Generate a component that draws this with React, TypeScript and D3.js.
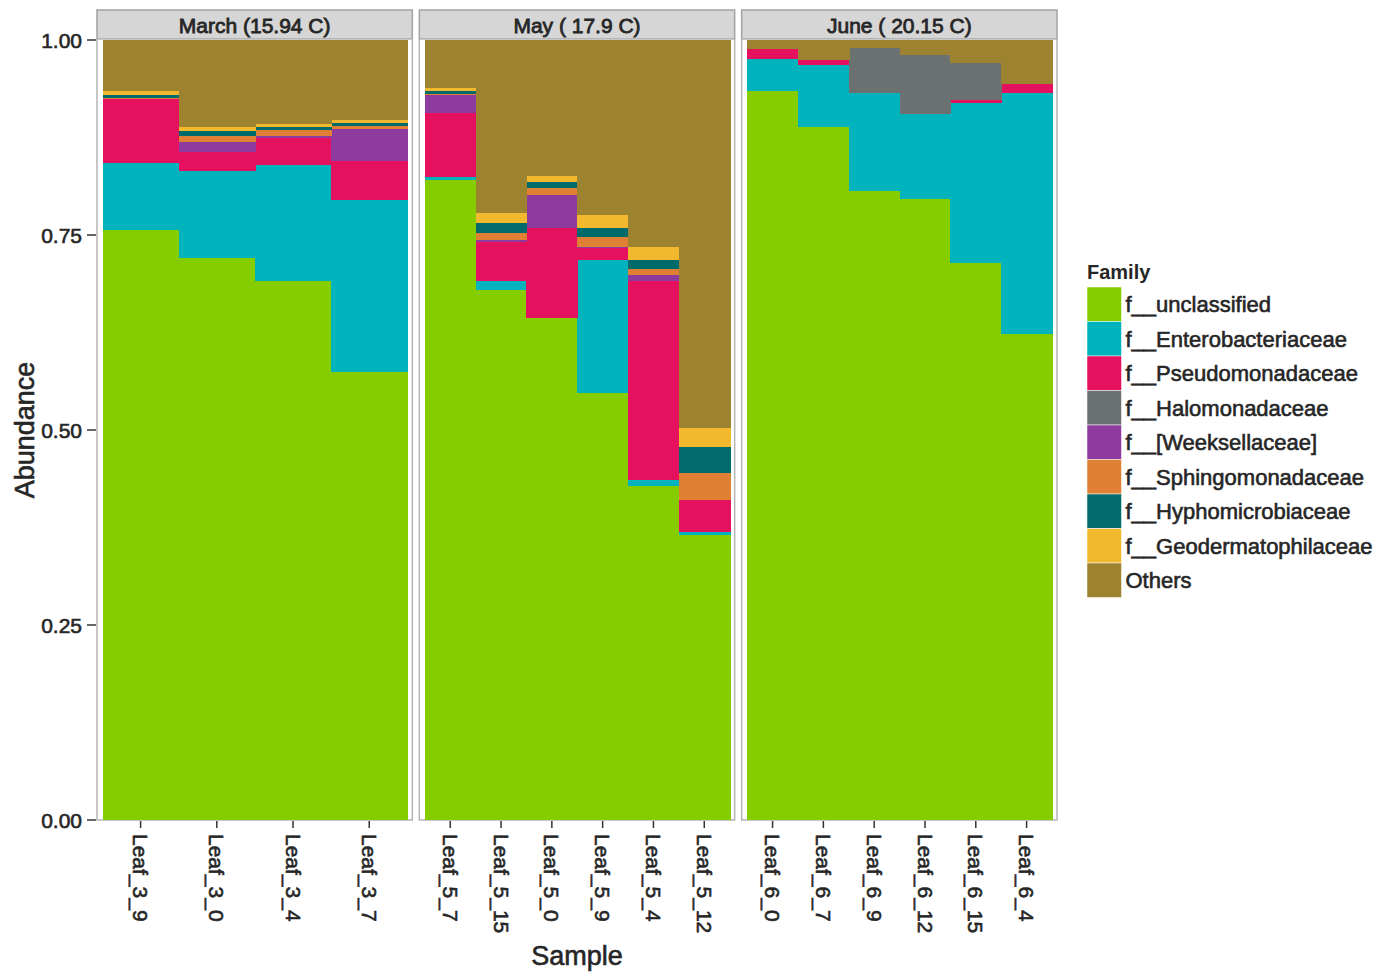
import * as d3 from "d3";

// Family order, bottom of the stack first
const families = [
  "f__unclassified",
  "f__Enterobacteriaceae",
  "f__Pseudomonadaceae",
  "f__Halomonadaceae",
  "f__[Weeksellaceae]",
  "f__Sphingomonadaceae",
  "f__Hyphomicrobiaceae",
  "f__Geodermatophilaceae",
  "Others",
];
const familyColors = [
  "#86CD00",
  "#00B3BC",
  "#E5105E",
  "#6B7070",
  "#8E3B9F",
  "#DF8034",
  "#016B6B",
  "#F2B92E",
  "#9D832F",
];

const panelTitles = ["March (15.94 C)", "May ( 17.9 C)", "June ( 20.15 C)"];
const marchSamples = ["Leaf_3_9", "Leaf_3_0", "Leaf_3_4", "Leaf_3_7"];
const maySamples = ["Leaf_5_7", "Leaf_5_15", "Leaf_5_0", "Leaf_5_9", "Leaf_5_4", "Leaf_5_12"];
const juneSamples = ["Leaf_6_0", "Leaf_6_7", "Leaf_6_9", "Leaf_6_12", "Leaf_6_15", "Leaf_6_4"];

// abundance per family, samples in panel order (March 4, May 6, June 6)
const unclassified = [0.756, 0.72, 0.691, 0.574, 0.821, 0.679, 0.644, 0.547, 0.428, 0.365, 0.935, 0.888, 0.806, 0.796, 0.714, 0.623];
const enterobacteriaceae = [0.086, 0.112, 0.149, 0.221, 0.003, 0.012, 0.0, 0.171, 0.008, 0.004, 0.041, 0.08, 0.126, 0.109, 0.205, 0.309];
const pseudomonadaceae = [0.082, 0.024, 0.034, 0.05, 0.082, 0.05, 0.115, 0.015, 0.255, 0.041, 0.013, 0.006, 0.0, 0.0, 0.004, 0.012];
const halomonadaceae = [0, 0, 0, 0, 0, 0, 0, 0, 0, 0, 0, 0, 0.058, 0.076, 0.048, 0];
const weeksellaceae = [0.001, 0.013, 0.003, 0.041, 0.023, 0.002, 0.042, 0.001, 0.008, 0, 0, 0, 0, 0, 0, 0];
const sphingomonadaceae = [0.001, 0.008, 0.008, 0.004, 0.002, 0.01, 0.009, 0.013, 0.007, 0.035, 0, 0, 0, 0, 0, 0];
const hyphomicrobiaceae = [0.004, 0.006, 0.004, 0.004, 0.003, 0.012, 0.008, 0.012, 0.012, 0.033, 0, 0, 0, 0, 0, 0];
const geodermatophilaceae = [0.005, 0.006, 0.003, 0.003, 0.005, 0.013, 0.008, 0.017, 0.017, 0.025, 0, 0, 0, 0, 0, 0];
const others = [0.065, 0.111, 0.108, 0.103, 0.061, 0.222, 0.174, 0.224, 0.265, 0.497, 0.011, 0.026, 0.01, 0.019, 0.029, 0.056];

const yTicks = [0, 0.25, 0.5, 0.75, 1];

const W = 1390;
const H = 972;
const FONT = "'Liberation Sans', Arial, Helvetica, sans-serif";
const TEXT = "#262626";
// the reference text is rendered heavy; a hairline stroke imitates it
const heavy = { fill: TEXT, stroke: TEXT, strokeWidth: 0.6 };

export default function App() {
  const seriesValues = [
    unclassified,
    enterobacteriaceae,
    pseudomonadaceae,
    halomonadaceae,
    weeksellaceae,
    sphingomonadaceae,
    hyphomicrobiaceae,
    geodermatophilaceae,
    others,
  ];
  const panels = [marchSamples, maySamples, juneSamples];

  const rows = panels.flat().map((s, i) => {
    const r: Record<string, any> = { sample: s };
    families.forEach((f, j) => (r[f] = seriesValues[j][i]));
    return r;
  });
  const stacked = d3.stack<any>().keys(families)(rows);

  const plotLeft = 97;
  const plotRight = 1057;
  const panelGap = 7;
  const panelW = (plotRight - plotLeft - panelGap * (panels.length - 1)) / panels.length;
  const top = 40;
  const bottom = 820;
  const stripTop = 10;

  const y = d3.scaleLinear().domain([0, 1]).range([bottom, top]);

  let offset = 0;
  const panelInfo = panels.map((samples, p) => {
    const x0 = plotLeft + p * (panelW + panelGap);
    const x = d3
      .scaleBand<string>()
      .domain(samples)
      .range([x0 + 5.5, x0 + panelW - 5])
      .padding(0);
    const start = offset;
    offset += samples.length;
    return { x0, x, samples, start };
  });

  const legendX = 1087;
  const legendY = 287;
  const keySize = 34.5;

  return (
    <svg
      width={W}
      height={H}
      style={{ position: "absolute", left: 0, top: 0, background: "#fff" }}
      fontFamily={FONT}
    >
      {panelInfo.map((pi, p) => (
        <g key={p}>
          <rect x={pi.x0} y={stripTop} width={panelW} height={top - stripTop - 1} fill="#d6d6d6" stroke="#a3a3a3" strokeWidth={1.5} />
          <text
            x={pi.x0 + panelW / 2}
            y={(stripTop + top) / 2}
            dy="0.36em"
            textAnchor="middle"
            fontSize={21}
            {...heavy}
            strokeWidth={0.8}
          >
            {panelTitles[p]}
          </text>
          <rect x={pi.x0} y={top - 1} width={panelW} height={bottom - top + 1} fill="#fff" stroke="#b5b5b5" strokeWidth={1.5} />
          <g shapeRendering="crispEdges">
            {stacked.map((layer, k) =>
              pi.samples.map((s, i) => {
                const d = layer[pi.start + i];
                const h = y(d[0]) - y(d[1]);
                if (h <= 0) return null;
                return (
                  <rect
                    key={`${k}-${s}`}
                    x={pi.x(s)}
                    y={y(d[1])}
                    width={pi.x.bandwidth() + 1}
                    height={h}
                    fill={familyColors[k]}
                  />
                );
              })
            )}
          </g>
          {pi.samples.map((s) => {
            const cx = (pi.x(s) ?? 0) + pi.x.bandwidth() / 2;
            return (
              <g key={s}>
                <line x1={cx} x2={cx} y1={bottom + 1} y2={bottom + 8} stroke="#333" strokeWidth={1.5} />
                <text
                  transform={`translate(${cx},${bottom + 14}) rotate(90)`}
                  dy="0.35em"
                  fontSize={21}
                  {...heavy}
                >
                  {s}
                </text>
              </g>
            );
          })}
        </g>
      ))}

      {yTicks.map((t) => (
        <g key={t}>
          <line x1={87} x2={plotLeft - 1} y1={y(t)} y2={y(t)} stroke="#333" strokeWidth={1.5} />
          <text x={82} y={y(t)} dy="0.36em" textAnchor="end" fontSize={21} {...heavy}>
            {d3.format(".2f")(t)}
          </text>
        </g>
      ))}

      <text
        transform={`translate(34,${(top + bottom) / 2}) rotate(-90)`}
        textAnchor="middle"
        fontSize={27}
        {...heavy}
      >
        Abundance
      </text>
      <text x={(plotLeft + plotRight) / 2} y={965} textAnchor="middle" fontSize={27} {...heavy}>
        Sample
      </text>

      <text x={legendX} y={279} fontSize={20} fontWeight="bold" fill={TEXT}>
        Family
      </text>
      {families.map((f, i) => (
        <g key={f}>
          <rect x={legendX} y={legendY + i * keySize} width={keySize} height={keySize} fill={familyColors[i]} stroke="#fff" strokeWidth={0.5} />
          <text x={legendX + keySize + 4} y={legendY + i * keySize + keySize / 2} dy="0.36em" fontSize={22} {...heavy}>
            {f}
          </text>
        </g>
      ))}
    </svg>
  );
}
